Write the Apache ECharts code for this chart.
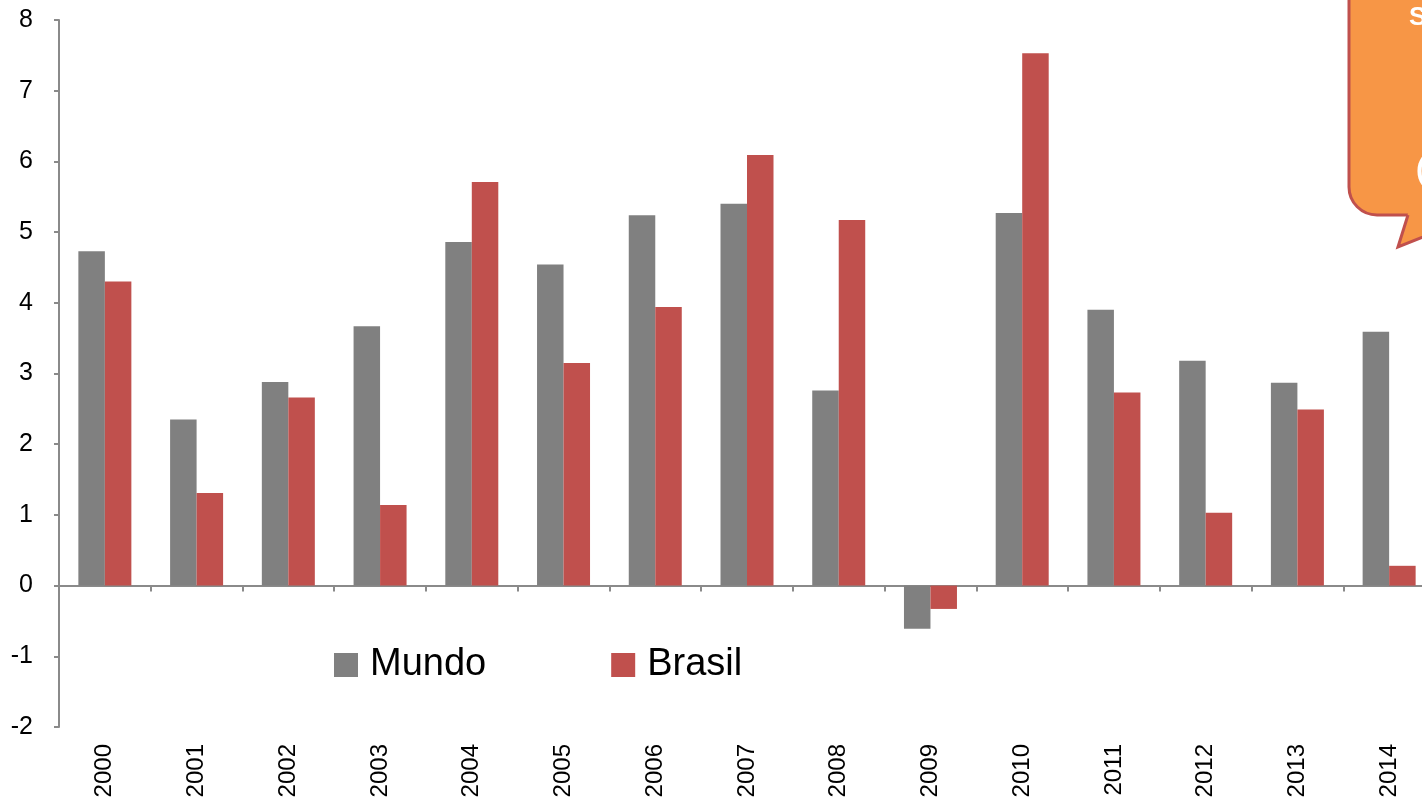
<!DOCTYPE html>
<html>
<head>
<meta charset="utf-8">
<script src="https://cdn.jsdelivr.net/npm/echarts@6/dist/echarts.min.js"></script>
<style>
html,body{margin:0;padding:0;background:#fff;}
#chart{width:1422px;height:800px;}
</style>
</head>
<body>
<div id="chart"></div>
<script>
const categories = ['2000','2001','2002','2003','2004','2005','2006','2007','2008','2009','2010','2011','2012','2013','2014'];
const mundo  = [4.73, 2.35, 2.88, 3.67, 4.86, 4.54, 5.24, 5.40, 2.76, -0.61, 5.27, 3.90, 3.18, 2.87, 3.59];
const brasil = [4.30, 1.31, 2.66, 1.14, 5.71, 3.15, 3.94, 6.09, 5.17, -0.33, 7.53, 2.73, 1.03, 2.49, 0.28];
const seriesNames = ['Mundo', 'Brasil'];
const calloutText = ['S', '('];

const chart = echarts.init(document.getElementById('chart'));
const axisGray = '#8a8a8a';
chart.setOption({
  animation: false,
  backgroundColor: '#ffffff',
  textStyle: { fontFamily: '"Liberation Sans", Arial, sans-serif' },
  grid: { left: 59, top: 20, height: 707, width: 1376, containLabel: false, outerBoundsMode: 'none' },
  legend: {
    data: seriesNames,
    left: 334, top: 646, padding: 0,
    icon: 'rect', itemWidth: 24, itemHeight: 24, itemGap: 125,
    textStyle: { fontSize: 38, color: '#000', padding: [0, 0, 0, 7] }
  },
  xAxis: [
    {
      type: 'category',
      data: categories,
      position: 'bottom',
      axisLine: { onZero: true, lineStyle: { color: axisGray, width: 2 } },
      axisTick: { show: true, length: 6, lineStyle: { color: axisGray, width: 2 } },
      axisLabel: { show: false },
      splitLine: { show: false }
    },
    {
      type: 'category',
      data: categories,
      position: 'bottom',
      axisLine: { show: false, onZero: false },
      axisTick: { show: false },
      axisLabel: { rotate: 90, margin: 17, fontSize: 24, color: '#000', interval: 0, hideOverlap: false },
      splitLine: { show: false }
    }
  ],
  yAxis: {
    type: 'value', min: -2, max: 8, interval: 1,
    axisLine: { show: true, lineStyle: { color: axisGray, width: 2 } },
    axisTick: { show: true, length: 5, lineStyle: { color: axisGray, width: 2 } },
    axisLabel: { fontSize: 25, color: '#000', margin: 26 },
    splitLine: { show: false }
  },
  series: [
    { name: seriesNames[0], type: 'bar', xAxisIndex: 0, data: mundo, barWidth: 26.5, barGap: '0%', itemStyle: { color: '#808080' } },
    { name: seriesNames[1], type: 'bar', xAxisIndex: 0, data: brasil, barWidth: 26.5, barGap: '0%', itemStyle: { color: '#C0504D' } }
  ],
  graphic: [
    { type: 'rect', shape: { x: 1349, y: -40, width: 140, height: 255, r: 28 },
      style: { fill: '#F79646', stroke: '#C0504D', lineWidth: 3 }, z: 10 },
    { type: 'polygon', shape: { points: [[1409, 210], [1398, 247], [1450, 226], [1450, 210]] },
      style: { fill: '#F79646' }, z: 11 },
    { type: 'polyline', shape: { points: [[1408, 215], [1398, 247], [1450, 226]] },
      style: { stroke: '#C0504D', lineWidth: 3, fill: null }, z: 12 },
    { type: 'text', left: 1409, top: 5, style: { text: calloutText[0], fill: '#fff', font: 'bold 26px "Liberation Sans", Arial, sans-serif' }, z: 13 },
    { type: 'text', left: 1416, top: 156, style: { text: calloutText[1], fill: '#fff', font: 'bold 30px "Liberation Sans", Arial, sans-serif' }, z: 13 }
  ]
});
</script>
</body>
</html>
